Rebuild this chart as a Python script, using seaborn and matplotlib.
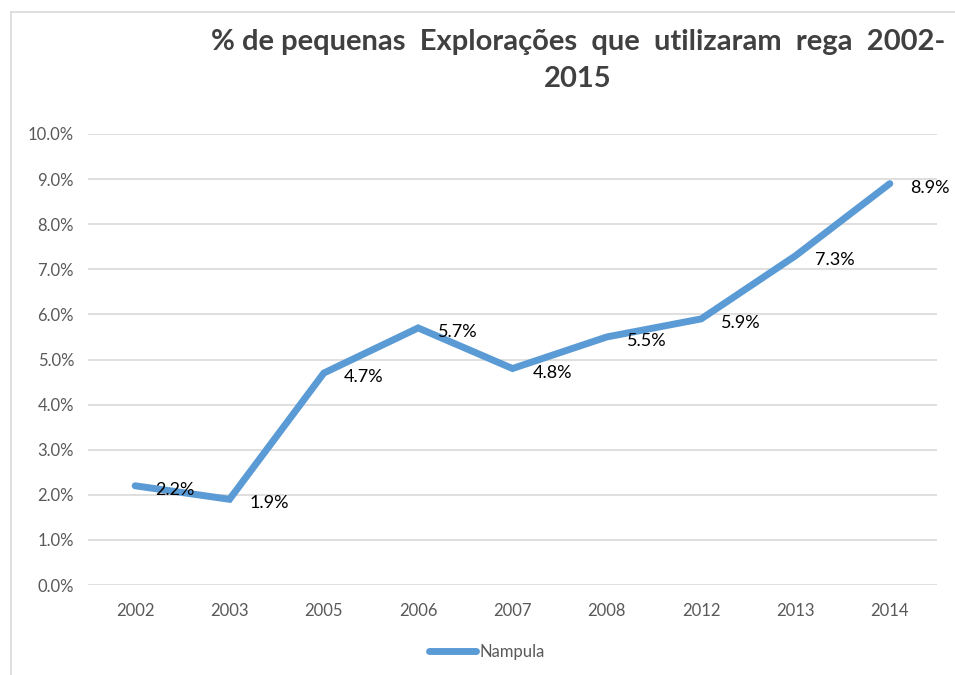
"""Line chart: % of small farms using irrigation, Nampula"""
import pandas as pd
import matplotlib
matplotlib.use('Agg')
import matplotlib.pyplot as plt
import seaborn as sns
from matplotlib.lines import Line2D

years = ['2002', '2003', '2005', '2006', '2007', '2008', '2012', '2013', '2014']
nampula = [0.022, 0.019, 0.047, 0.057, 0.048, 0.055, 0.059, 0.073, 0.089]
y_ticks = [0.0, 0.01, 0.02, 0.03, 0.04, 0.05, 0.06, 0.07, 0.08, 0.09, 0.10]

data = pd.DataFrame({'ano': years, 'valor': nampula})

sns.set_style('white')
plt.rcParams['font.family'] = ['Lato', 'DejaVu Sans']

blue = '#5B9BD5'
grey = '#595959'

fig = plt.figure(figsize=(9.55, 6.75), dpi=100)
ax = fig.add_axes([88 / 955, 1 - 585 / 675, (937 - 88) / 955, (585 - 134) / 675])

# gridlines first so the line sits above them
for t in y_ticks:
    ax.axhline(t, color='#D9D9D9', lw=1.2, zorder=0)

x_pos = list(range(len(years)))
sns.lineplot(x=x_pos, y=data['valor'], ax=ax, color=blue, lw=5,
             solid_capstyle='round', solid_joinstyle='miter', zorder=3)

# data labels to the right of each point
for i, v in enumerate(nampula):
    ax.annotate(f'{v * 100:.1f}%', (i, v), xytext=(20, -4), textcoords='offset pixels',
                ha='left', va='center', fontsize=13, color='black', zorder=4)

ax.set_xlim(-0.5, len(years) - 0.5)
ax.set_ylim(0, 0.10)
ax.set_xticks(x_pos)
ax.set_xticklabels(years)
ax.set_yticks(y_ticks)
ax.set_yticklabels([f'{t * 100:.1f}%' for t in y_ticks])
ax.tick_params(axis='both', length=0, labelsize=12, labelcolor=grey)
ax.tick_params(axis='x', pad=13)
ax.tick_params(axis='y', pad=10)
ax.set_xlabel('')
ax.set_ylabel('')
for s in ax.spines.values():
    s.set_visible(False)

fig.text(578 / 955, 1 - 42 / 675, '% de pequenas  Explorações  que  utilizaram  rega  2002-',
         ha='center', va='center', fontsize=21, fontweight='bold', color='#404040')
fig.text(578 / 955, 1 - 79 / 675, '2015',
         ha='center', va='center', fontsize=21, fontweight='bold', color='#404040')

# chart border (top and left visible)
fig.add_artist(Line2D([11 / 955, 11 / 955], [0, 1 - 12 / 675], color='#D9D9D9', lw=1.2))
fig.add_artist(Line2D([11 / 955, 1], [1 - 12 / 675, 1 - 12 / 675], color='#D9D9D9', lw=1.2))

handle = Line2D([], [], color=blue, lw=5, solid_capstyle='round')
fig.legend([handle], ['Nampula'], loc='center', bbox_to_anchor=(487 / 955, 1 - 652 / 675),
           frameon=False, fontsize=12, handlelength=2.8, handletextpad=0.25,
           labelcolor=grey)

fig.savefig('out.png', dpi=100)
